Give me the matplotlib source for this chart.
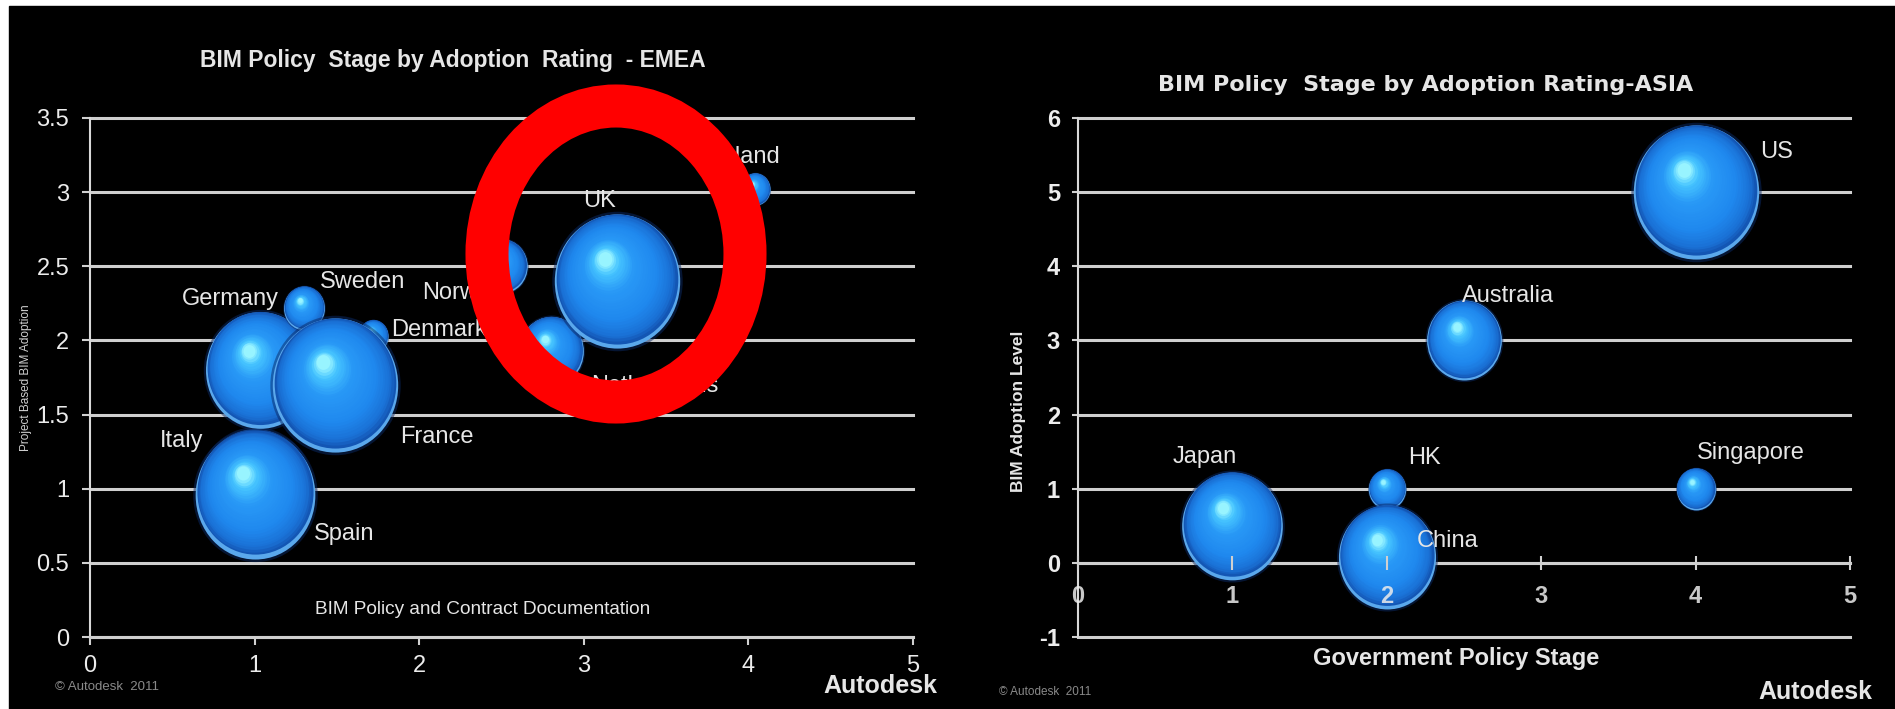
import matplotlib
matplotlib.use('Agg')
import matplotlib.pyplot as plt
import numpy as np
from matplotlib.patches import Ellipse, Rectangle
from matplotlib.path import Path
from matplotlib.transforms import Affine2D, offset_copy
from matplotlib.colors import LinearSegmentedColormap

plt.rcParams['font.family'] = ['Liberation Sans', 'DejaVu Sans']
plt.rcParams['axes.unicode_minus'] = False

# ---------------- data ----------------
emea_countries = ['Italy', 'Germany', 'Sweden', 'Denmark', 'France', 'Spain',
                  'Netherlands', 'Norway', 'UK', 'Finland']
emea_policy = [1.0, 1.03, 1.3, 1.72, 1.49, 1.0, 2.8, 2.5, 3.2, 4.04]
emea_adoption = [1.0, 1.8, 2.22, 2.03, 1.7, 0.96, 1.93, 2.5, 2.4, 3.02]
emea_size = [36, 34, 4.8, 2.6, 45, 41, 12, 7.3, 45, 2.6]

asia_countries = ['Japan', 'HK', 'China', 'Australia', 'Singapore', 'US']
asia_policy = [1, 2, 2, 2.5, 4, 4]
asia_adoption = [0.5, 1, 0.08, 3, 1, 5]
asia_size = [29, 4, 27, 16, 4.4, 45]

emea_xticks = [0, 1, 2, 3, 4, 5]
emea_yticks = [0, 0.5, 1, 1.5, 2, 2.5, 3, 3.5]
emea_yticklabels = ['0', '0.5', '1', '1.5', '2', '2.5', '3', '3.5']
asia_xticks = [0, 1, 2, 3, 4, 5]
asia_yticks = [-1, 0, 1, 2, 3, 4, 5, 6]

# label placement (pixel offsets from bubble centre, alignment)
emea_label_pos = {'Italy': (-95, 48, 'left'), 'Spain': (59, -39, 'left'),
                  'Germany': (-78, 71, 'left'), 'Sweden': (16, 26, 'left'),
                  'Denmark': (18, 6, 'left'), 'France': (65, -52, 'left'),
                  'Norway': (-79, -27, 'left'), 'Netherlands': (40, -35, 'left'),
                  'UK': (-17, 80, 'center'), 'Finland': (25, 32, 'right')}
asia_label_pos = {'US': (65, 40, 'left'), 'Australia': (-2, 44, 'left'),
                  'Japan': (-28, 69, 'center'), 'HK': (21, 31, 'left'),
                  'China': (30, 16, 'left'), 'Singapore': (1, 36, 'left')}

W, H = 1895, 709
fig = plt.figure(figsize=(W / 100, H / 100), dpi=100, facecolor='white')
fig.add_artist(Rectangle((9 / W, 0), 1, (H - 6) / H, transform=fig.transFigure,
                         color='black', zorder=-5))

ax1 = fig.add_axes([90 / W, 72 / H, 823 / W, 519 / H])
ax2 = fig.add_axes([1078 / W, 72 / H, 772 / W, 519 / H])

grid_c = '#cfcfcf'
for ax in (ax1, ax2):
    ax.set_facecolor('none')
    for s in ['top', 'right']:
        ax.spines[s].set_visible(False)
    ax.spines['left'].set_color('#d8d8d8')
    ax.spines['left'].set_linewidth(1.5)
    ax.spines['bottom'].set_color(grid_c)
    ax.spines['bottom'].set_linewidth(2.2)
    ax.yaxis.grid(True, color=grid_c, lw=2.2)
    ax.set_axisbelow(True)
    ax.xaxis.set_zorder(8)

ax1.set_xlim(0, 5)
ax1.set_ylim(0, 3.5)
ax1.set_xticks(emea_xticks)
ax1.set_yticks(emea_yticks)
ax1.set_yticklabels(emea_yticklabels)
ax1.tick_params(axis='both', colors='#d0d0d0', labelcolor='#ececec',
                labelsize=17, length=6, width=1.5, direction='out')
ax1.tick_params(axis='x', pad=7)
ax1.tick_params(axis='y', pad=9)

ax2.set_xlim(0, 5)
ax2.set_ylim(-1, 6)
ax2.set_xticks(asia_xticks)
ax2.set_yticks(asia_yticks)
ax2.spines['bottom'].set_position(('data', 0))
ax2.tick_params(axis='both', colors='#d0d0d0', labelcolor='#ececec',
                labelsize=17, width=1.5)
ax2.tick_params(axis='x', direction='inout', length=10, pad=11)
ax2.tick_params(axis='y', direction='out', length=4, pad=9)
for lab in ax2.get_xticklabels() + ax2.get_yticklabels():
    lab.set_fontweight('bold')
for lab in ax2.get_xticklabels():
    lab.set_alpha(0.85)

fig.canvas.draw()
for ax in (ax1, ax2):
    for ln in ax.get_ygridlines():
        ln.set_clip_on(False)

# ---------------- bubbles ----------------
ell_path = Affine2D().scale(1.0, 1.07).transform_path(Path.unit_circle())
cmap = LinearSegmentedColormap.from_list(
    'bub', [(0, '#1356b4'), (0.08, '#1a70d4'), (0.3, '#1f88ee'),
            (0.65, '#2898f6'), (0.88, '#46c4ff'), (1, '#98f4ff')])
NL = 30


def bubble(ax, x, y, size, z):
    r_pt = 7.2 * np.sqrt(size)
    # soft dark halo
    ax.scatter([x], [y], s=(2 * r_pt * 1.04) ** 2, marker=ell_path,
               color='#0a2a66', alpha=0.5, linewidths=0, zorder=z - 0.002,
               clip_on=False)
    # light rim (visible as crescent at the bottom)
    ax.scatter([x], [y], s=(2 * r_pt) ** 2, marker=ell_path,
               color='#5aa8ec', linewidths=0, zorder=z - 0.001, clip_on=False)
    for k in range(NL):
        t = k / (NL - 1)
        f = 0.97 - 0.86 * t
        tr = offset_copy(ax.transData, fig=fig, x=-0.18 * r_pt * t,
                         y=0.035 * r_pt + 0.3 * r_pt * t, units='points')
        ax.scatter([x], [y], s=(2 * r_pt * f) ** 2, marker=ell_path,
                   color=cmap(t), linewidths=0, transform=tr,
                   zorder=z + k * 0.001, clip_on=False)


def draw(ax, names, xs, ys, sizes, labpos):
    for i, (n, x, y, s) in enumerate(zip(names, xs, ys, sizes)):
        bubble(ax, x, y, s, 3 + i * 0.1)
    for n, x, y in zip(names, xs, ys):
        dx, dy, ha = labpos[n]
        ax.annotate(n, (x, y), xytext=(dx, dy), textcoords='offset pixels',
                    ha=ha, va='center', fontsize=17, color='#e6e6e6',
                    zorder=6, annotation_clip=False)


draw(ax1, emea_countries, emea_policy, emea_adoption, emea_size, emea_label_pos)
draw(ax2, asia_countries, asia_policy, asia_adoption, asia_size, asia_label_pos)

# ---------------- texts ----------------
fig.text(453 / W, 1 - 60 / H, 'BIM Policy  Stage by Adoption  Rating  - EMEA',
         ha='center', va='center', fontsize=16.5, weight='bold', color='#e6e6e6')
fig.text(1426 / W, 1 - 85 / H, 'BIM Policy  Stage by Adoption Rating-ASIA',
         ha='center', va='center', fontsize=16, weight='bold', color='#e6e6e6',
         family=['DejaVu Sans'])
fig.text(483 / W, 1 - 610 / H, 'BIM Policy and Contract Documentation',
         ha='center', va='center', fontsize=13.7, color='#e6e6e6')
fig.text(26 / W, 1 - 378 / H, 'Project Based BIM Adoption', rotation=90,
         ha='center', va='center', fontsize=8.5, color='#d0d0d0')
fig.text(1456 / W, 1 - 659 / H, 'Government Policy Stage',
         ha='center', va='center', fontsize=17, weight='bold', color='#e6e6e6')
fig.text(1019 / W, 1 - 411 / H, 'BIM Adoption Level', rotation=90,
         ha='center', va='center', fontsize=12.5, weight='bold', color='#e6e6e6')
fig.text(880 / W, 1 - 686 / H, 'Autodesk', ha='center', va='center',
         fontsize=18, weight='bold', color='#e6e6e6')
fig.text(1815 / W, 1 - 692 / H, 'Autodesk', ha='center', va='center',
         fontsize=18, weight='bold', color='#e6e6e6')
fig.text(107 / W, 1 - 687 / H, '\u00a9 Autodesk  2011', ha='center', va='center',
         fontsize=9.5, color='#8a8a8a')
fig.text(1045 / W, 1 - 692 / H, '\u00a9 Autodesk  2011', ha='center', va='center',
         fontsize=8.5, color='#8a8a8a')

# red highlight ring
fig.add_artist(Ellipse((616 / W, 1 - 254 / H), 258 / W, 296 / H,
                       transform=fig.transFigure, fill=False, ec='#ff0000',
                       lw=31, zorder=10))

fig.savefig('out.png', dpi=100, facecolor='white')
